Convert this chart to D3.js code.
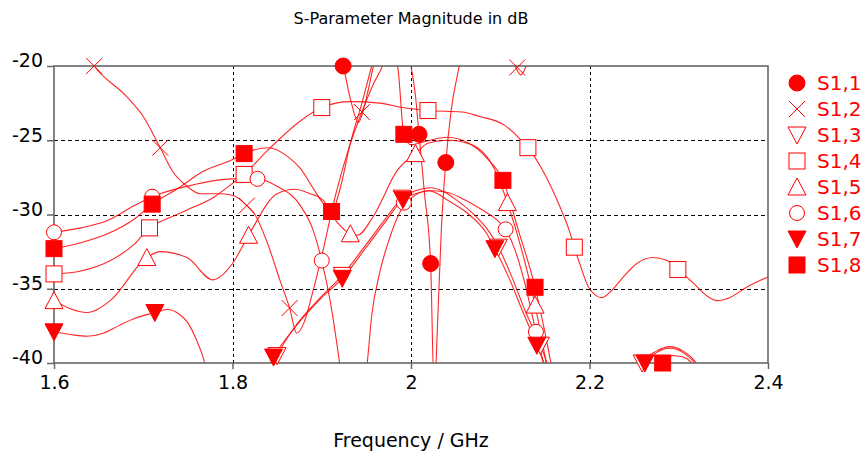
<!DOCTYPE html>
<html><head><meta charset="utf-8">
<script src="https://cdn.jsdelivr.net/npm/d3@7"></script>
<style>body{margin:0;background:#fff}svg{display:block}</style>
</head><body><svg id="c" width="861" height="455"></svg>
<script>
// ---------- data ----------
const xTicks = [1.6, 1.8, 2.0, 2.2, 2.4];
const xTickLabels = ["1.6", "1.8", "2", "2.2", "2.4"];
const yTicks = [-20, -25, -30, -35, -40];
const seriesNames = ["S1,1", "S1,2", "S1,3", "S1,4", "S1,5", "S1,6", "S1,7", "S1,8"];
const markerTypes = ["circleFill", "cross", "triDownOpen", "squareOpen", "triUpOpen", "circleOpen", "triDownFill", "squareFill"];

// curves [freq GHz, dB]
const s11 = [[1.6,-8],[1.85,-12],[1.9,-16],[1.915,-18.5],[1.924,-20],[1.932,-22.2],[1.941,-23.8],[1.949,-22.4],[1.958,-20],[1.972,-17.5],[1.99,-17.8],[2.0,-20],[2.005,-22],[2.009,-24.6],[2.015,-28.5],[2.022,-33.3],[2.026,-42],[2.03,-37],[2.034,-31],[2.039,-26.5],[2.045,-23],[2.054,-20],[2.07,-15],[2.4,-6]];
const s12 = [[1.6,-15],[1.62,-17.5],[1.645,-20],[1.682,-22.1],[1.70,-23.4],[1.719,-25.5],[1.733,-27.1],[1.749,-28.1],[1.764,-28.6],[1.783,-28.6],[1.80,-28.7],[1.816,-29.4],[1.825,-30.0],[1.839,-31.9],[1.853,-34.4],[1.864,-36.3],[1.872,-38.0],[1.88,-37.3],[1.89,-35.2],[1.90,-32.8],[1.915,-28.8],[1.93,-25.6],[1.945,-23.1],[1.958,-21.2],[1.968,-20],[1.99,-15],[2.05,-10],[2.10,-18.5],[2.115,-19.8],[2.123,-20.6],[2.13,-19.9],[2.145,-18],[2.2,-12],[2.4,-10]];
const s13 = [[1.80,-46],[1.835,-41.6],[1.85,-39.5],[1.872,-37.4],[1.90,-35.5],[1.923,-34.1],[1.95,-32.0],[1.97,-30.4],[1.99,-28.9],[2.005,-28.4],[2.022,-28.2],[2.038,-28.5],[2.048,-28.9],[2.067,-29.8],[2.088,-31.2],[2.098,-32.2],[2.113,-34.2],[2.128,-36.5],[2.145,-38.8],[2.154,-40.3],[2.165,-43],[2.2,-50],[2.245,-42.5],[2.259,-40],[2.275,-39.2],[2.29,-38.9],[2.305,-39.2],[2.322,-40.2],[2.335,-42],[2.4,-50]];
const s14 = [[1.6,-34.0],[1.63,-33.8],[1.66,-33.2],[1.69,-32.0],[1.707,-30.9],[1.73,-30.2],[1.749,-29.7],[1.78,-28.8],[1.80,-27.9],[1.813,-27.3],[1.839,-25.7],[1.876,-23.7],[1.90,-22.8],[1.932,-22.4],[1.965,-22.5],[1.99,-22.8],[2.019,-23.0],[2.057,-23.1],[2.077,-23.4],[2.105,-24.0],[2.122,-24.9],[2.131,-25.5],[2.15,-27.3],[2.167,-29.5],[2.178,-31.2],[2.183,-32.2],[2.189,-33.3],[2.20,-35.0],[2.214,-35.6],[2.225,-35.1],[2.238,-34.2],[2.253,-33.3],[2.271,-32.9],[2.287,-33.1],[2.299,-33.7],[2.316,-34.6],[2.332,-35.5],[2.343,-35.8],[2.357,-35.6],[2.376,-34.9],[2.4,-34.2]];
const s15 = [[1.6,-35.8],[1.637,-36.6],[1.663,-35.8],[1.704,-32.9],[1.719,-32.5],[1.749,-32.9],[1.778,-34.4],[1.80,-33.3],[1.818,-31.4],[1.85,-28.6],[1.87,-28.3],[1.887,-28.6],[1.901,-29.0],[1.917,-30.5],[1.932,-31.3],[1.94,-31.4],[1.957,-30.2],[1.985,-27.0],[2.005,-25.9],[2.019,-25.2],[2.041,-25.0],[2.068,-25.3],[2.094,-27.0],[2.108,-29.2],[2.125,-32.6],[2.139,-36.1],[2.152,-40.2],[2.165,-45]];
const s16 = [[1.6,-31.2],[1.63,-30.9],[1.66,-30.4],[1.69,-29.4],[1.71,-28.8],[1.749,-28.1],[1.80,-27.6],[1.828,-27.6],[1.85,-28.1],[1.876,-29.4],[1.89,-31.0],[1.90,-33.1],[1.91,-36.0],[1.92,-40.0],[1.935,-47],[1.951,-40],[1.956,-36.8],[1.965,-33.9],[1.976,-31.6],[1.988,-29.8],[2.0,-28.9],[2.02,-28.4],[2.04,-28.5],[2.06,-29.0],[2.08,-29.7],[2.095,-30.3],[2.106,-31.0],[2.116,-32.3],[2.127,-34.5],[2.14,-37.9],[2.15,-40.5],[2.16,-44]];
const s17 = [[1.6,-37.9],[1.62,-38.1],[1.637,-38.2],[1.655,-38.0],[1.672,-37.5],[1.69,-37.0],[1.713,-36.6],[1.727,-36.4],[1.74,-36.7],[1.75,-37.3],[1.76,-38.5],[1.767,-39.6],[1.773,-41],[1.80,-45],[1.83,-41.6],[1.846,-39.6],[1.87,-37.6],[1.90,-35.6],[1.923,-34.3],[1.95,-32.2],[1.97,-30.6],[1.991,-29.0],[2.005,-28.6],[2.02,-28.4],[2.03,-28.6],[2.04,-29.0],[2.063,-29.9],[2.085,-31.3],[2.094,-32.3],[2.11,-34.3],[2.125,-36.5],[2.141,-38.8],[2.15,-40.2],[2.16,-42.5],[2.2,-50],[2.25,-41.5],[2.262,-40],[2.275,-39.3],[2.29,-39.0],[2.305,-39.3],[2.32,-40.2],[2.33,-41.5],[2.4,-50]];
const s18 = [[1.6,-32.3],[1.63,-31.9],[1.66,-31.3],[1.69,-30.3],[1.71,-29.3],[1.74,-28.2],[1.764,-27.2],[1.80,-26.3],[1.813,-25.9],[1.84,-25.5],[1.862,-26.1],[1.876,-26.9],[1.89,-28.2],[1.901,-29.2],[1.911,-29.8],[1.92,-28.4],[1.932,-25.2],[1.945,-22.5],[1.956,-20],[1.968,-17.5],[1.98,-18.2],[1.986,-20.5],[1.992,-24.6],[2.0,-25.3],[2.015,-25.1],[2.04,-24.8],[2.065,-25.2],[2.085,-26.2],[2.103,-27.7],[2.12,-31.0],[2.139,-34.9],[2.152,-38.5],[2.16,-41],[2.2,-50],[2.27,-41.2],[2.282,-40],[2.293,-39.5],[2.305,-39.6],[2.318,-40.3],[2.33,-42],[2.4,-50]];

// markers [freq GHz, dB]
const m11 = [[1.924,-20],[2.009,-24.6],[2.022,-33.3],[2.039,-26.5]];
const m12 = [[1.645,-20],[1.719,-25.5],[1.816,-29.4],[1.864,-36.3],[1.945,-23.1],[2.119,-20.1]];
const m13 = [[1.85,-39.5],[1.923,-34.1],[1.99,-28.9],[2.098,-32.2],[2.145,-38.8],[2.259,-40]];
const m14 = [[1.6,-34.0],[1.707,-30.9],[1.813,-27.3],[1.90,-22.8],[2.019,-23.0],[2.131,-25.5],[2.183,-32.2],[2.299,-33.7]];
const m15 = [[1.6,-35.8],[1.704,-32.9],[1.818,-31.4],[1.932,-31.3],[2.005,-25.9],[2.108,-29.2],[2.139,-36.1]];
const m16 = [[1.6,-31.2],[1.71,-28.8],[1.828,-27.6],[1.90,-33.1],[1.992,-29.2],[2.106,-31.0],[2.14,-37.9]];
const m17 = [[1.6,-37.9],[1.713,-36.6],[1.846,-39.6],[1.923,-34.3],[1.991,-29.0],[2.094,-32.3],[2.141,-38.8],[2.262,-40]];
const m18 = [[1.6,-32.3],[1.71,-29.3],[1.813,-25.9],[1.911,-29.8],[1.992,-24.6],[2.103,-27.7],[2.139,-34.9],[2.282,-40]];

const curves = [s11, s12, s13, s14, s15, s16, s17, s18];
const markers = [m11, m12, m13, m14, m15, m16, m17, m18];

// ---------- layout ----------
const L = 54, R = 768, T = 66, B = 363;
const svg = d3.select("#c");
const font = "'DejaVu Sans', Verdana, sans-serif";
const x = d3.scaleLinear().domain([1.6, 2.4]).range([L, R]);
const y = d3.scaleLinear().domain([-40, -20]).range([B, T]);
const red = "#ff0000";

svg.append("text").attr("x", 411).attr("y", 24).attr("text-anchor", "middle")
  .attr("font-family", font).attr("font-size", 16).attr("fill", "#000")
  .text("S-Parameter Magnitude in dB");

// grid
const g = svg.append("g");
g.selectAll("line.gx").data(xTicks.slice(1, -1)).join("line")
  .attr("x1", d => Math.round(x(d)) + 0.5).attr("x2", d => Math.round(x(d)) + 0.5)
  .attr("y1", T).attr("y2", B).attr("stroke", "#000").attr("stroke-dasharray", "3,3").attr("stroke-width", 1);
g.selectAll("line.gy").data(yTicks.slice(1, -1)).join("line")
  .attr("y1", d => Math.round(y(d)) + 0.5).attr("y2", d => Math.round(y(d)) + 0.5)
  .attr("x1", L).attr("x2", R).attr("stroke", "#000").attr("stroke-dasharray", "4,3").attr("stroke-width", 1);

// axes via d3
const xAxis = d3.axisBottom(x).tickValues(xTicks).tickFormat((d, i) => xTickLabels[i]).tickSize(6).tickPadding(6);
const yAxis = d3.axisLeft(y).tickValues(yTicks).tickFormat(d3.format("d")).tickSize(7).tickPadding(3);
const gx = svg.append("g").attr("transform", `translate(0,${B})`).call(xAxis);
const gy = svg.append("g").attr("transform", `translate(${L},0)`).call(yAxis);
[gx, gy].forEach(a => {
  a.select(".domain").remove();
  a.selectAll(".tick line").attr("stroke", "#666").attr("stroke-width", 1.5);
  a.selectAll("text").attr("font-family", font).attr("font-size", 19).attr("fill", "#000");
});
gy.selectAll("text").attr("dy", "0.05em").attr("dx", "-1");
gy.selectAll("text").text(d => d3.format("d")(d).replace("−", "-"));
gx.selectAll("text").attr("dy", "0.75em");

// curves
svg.append("clipPath").attr("id", "clip").append("rect").attr("x", L).attr("y", T).attr("width", R - L).attr("height", B - T);
const line = d3.line().x(d => x(d[0])).y(d => y(d[1])).curve(d3.curveMonotoneX);
svg.append("g").attr("clip-path", "url(#clip)").selectAll("path").data(curves).join("path")
  .attr("d", line).attr("fill", "none").attr("stroke", red).attr("stroke-width", 1.1).attr("stroke-opacity", 0.85);

// frame
svg.append("rect").attr("x", L).attr("y", T).attr("width", R - L).attr("height", B - T)
  .attr("fill", "none").attr("stroke", "#666").attr("stroke-width", 1.6);

// marker shapes
function drawMarker(sel, type) {
  const filled = type.endsWith("Fill");
  const fill = filled ? red : "#fff";
  if (type.startsWith("circle")) {
    sel.append("circle").attr("r", filled ? 8 : 7.5).attr("fill", fill).attr("stroke", red).attr("stroke-width", 1);
  } else if (type.startsWith("square")) {
    sel.append("rect").attr("x", -8).attr("y", -8).attr("width", 16).attr("height", 16).attr("fill", fill).attr("stroke", red).attr("stroke-width", 1);
  } else if (type.startsWith("triDown")) {
    sel.append("path").attr("d", "M-9,-8L9,-8L0,9Z").attr("fill", fill).attr("stroke", red).attr("stroke-width", 1);
  } else if (type.startsWith("triUp")) {
    sel.append("path").attr("d", "M0,-9L9,8L-9,8Z").attr("fill", fill).attr("stroke", red).attr("stroke-width", 1);
  } else {
    sel.append("path").attr("d", "M-8,-8L8,8M-8,8L8,-8").attr("fill", "none").attr("stroke", red).attr("stroke-width", 1);
  }
}
markers.forEach((ms, i) => {
  svg.append("g").selectAll("g").data(ms).join("g")
    .attr("transform", d => `translate(${x(d[0])},${y(d[1])})`)
    .each(function () { drawMarker(d3.select(this), markerTypes[i]); });
});

// legend
const lg = svg.append("g");
seriesNames.forEach((n, i) => {
  const cy = 83 + 26 * i;
  const mg = lg.append("g").attr("transform", `translate(797,${cy})`);
  drawMarker(mg, markerTypes[i]);
  lg.append("text").attr("x", 817).attr("y", cy + 7).attr("font-family", font).attr("font-size", 20)
    .attr("fill", red).text(n);
});

svg.append("text").attr("x", 411).attr("y", 447).attr("text-anchor", "middle")
  .attr("font-family", font).attr("font-size", 19).attr("fill", "#000").text("Frequency / GHz");
</script></body></html>
